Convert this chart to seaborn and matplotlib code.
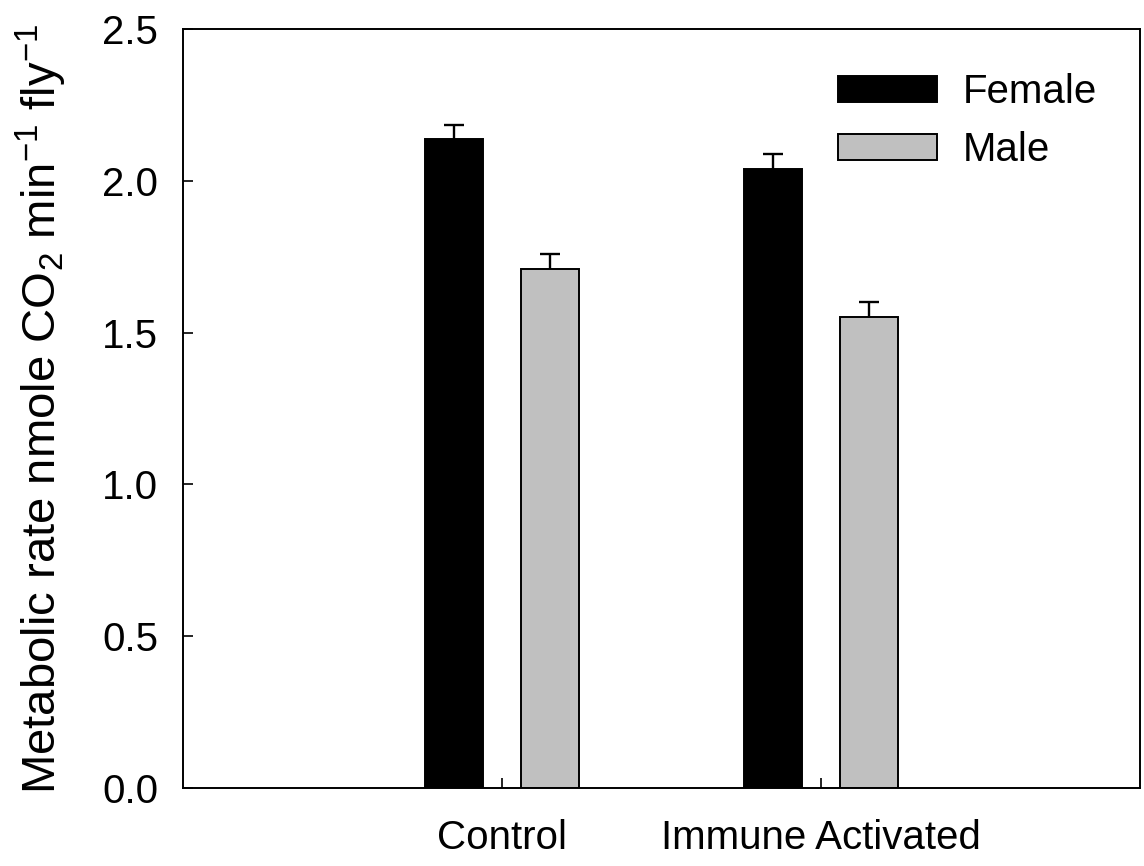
import matplotlib
matplotlib.use("Agg")
import matplotlib.pyplot as plt
import seaborn as sns
import pandas as pd
import numpy as np

conditions = ["Control", "Immune Activated"]
sexes = ["Female", "Male"]
female_means = [2.138, 2.040]
male_means = [1.709, 1.550]
female_err = [0.046, 0.048]
male_err = [0.050, 0.050]
yticks = [0.0, 0.5, 1.0, 1.5, 2.0, 2.5]

df = pd.DataFrame({
    "condition": conditions * 2,
    "sex": ["Female"] * 2 + ["Male"] * 2,
    "rate": female_means + male_means,
    "err": female_err + male_err,
})

sns.set_style("ticks")
plt.rcParams["font.family"] = ["Liberation Sans", "DejaVu Sans"]
plt.rcParams["mathtext.fontset"] = "custom"
plt.rcParams["mathtext.rm"] = "Liberation Sans"
plt.rcParams["mathtext.it"] = "Liberation Sans"
plt.rcParams["text.color"] = "black"
plt.rcParams["axes.labelcolor"] = "black"
plt.rcParams["xtick.color"] = "black"
plt.rcParams["ytick.color"] = "black"

fig = plt.figure(figsize=(11.44, 8.66), dpi=100)
ax = fig.add_axes([183 / 1144, 1 - 788 / 866, (1140 - 183) / 1144, (788 - 29) / 866])

sns.barplot(data=df, x="condition", y="rate", hue="sex", hue_order=sexes,
            order=conditions, palette={"Female": "#000000", "Male": "#c0c0c0"},
            width=0.6, gap=0.4, edgecolor="black", linewidth=1.4,
            errorbar=None, ax=ax, zorder=2)

# error bars (upper half visible; lower half hidden behind the bars)
for cont, sex in zip(ax.containers, sexes):
    sub = df[df["sex"] == sex].set_index("condition").loc[conditions]
    xs = [p.get_x() + p.get_width() / 2 for p in cont.patches]
    ax.errorbar(xs, sub["rate"].values, yerr=sub["err"].values, fmt="none",
                ecolor="black", elinewidth=1.7, capsize=7.5, capthick=1.7, zorder=1)

ax.set_xlim(-1, 2)
ax.set_ylim(0, 2.5)
ax.set_yticks(yticks)
ax.set_yticklabels([f"{v:.1f}" for v in yticks])
ax.set_xlabel("")
ax.set_ylabel("Metabolic rate nmole CO$_2$ min$^{-1}$ fly$^{-1}$", fontsize=34,
              labelpad=24, color="black")

for side in ["top", "right", "left", "bottom"]:
    ax.spines[side].set_visible(True)
    ax.spines[side].set_linewidth(1.4)
    ax.spines[side].set_color("black")

ax.tick_params(axis="y", direction="in", length=7, width=1.2, labelsize=29, pad=18,
               colors="black", labelcolor="black")
ax.tick_params(axis="x", direction="in", length=7, width=1.2, labelsize=29, pad=22,
               colors="black", labelcolor="black")

leg = ax.legend(loc="upper left", bbox_to_anchor=((838 - 183) / 957, 1 - (73 - 29) / 759),
                frameon=False, fontsize=29, handlelength=2.45, handleheight=0.6,
                handletextpad=0.65, labelspacing=0.5, borderpad=0, borderaxespad=0)
for t in leg.get_texts():
    t.set_color("black")

fig.savefig("out.png", dpi=100)
